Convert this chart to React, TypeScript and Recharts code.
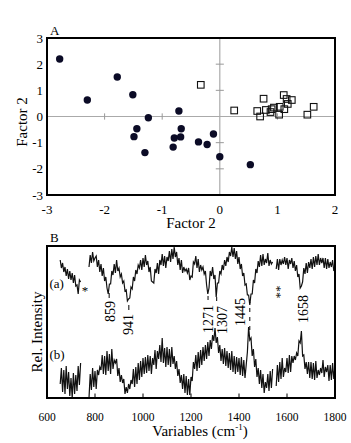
import React from 'react';
import {
  ScatterChart, Scatter, ComposedChart, Line, XAxis, YAxis, Label,
  ReferenceLine, ReferenceDot,
} from 'recharts';

const FONT = '"Liberation Serif", "Times New Roman", serif';

// ---- Panel A: factor scores ----
const factorTicksX = [-3, -2, -1, 0, 1, 2];
const factorTicksY = [-3, -2, -1, 0, 1, 2, 3];

const discX = [-2.78, -2.30, -1.78, -1.51, -1.24, -1.44, -1.49, -1.30, -0.71, -0.67, -0.68, -0.79, -0.81, -0.37, -0.22, -0.11, 0.0, 0.53];
const discY = [2.2, 0.63, 1.51, 0.83, -0.05, -0.47, -0.77, -1.38, 0.21, -0.47, -0.78, -0.82, -1.17, -0.97, -1.07, -0.67, -1.54, -1.84];

const squareX = [-0.33, 0.25, 0.65, 0.70, 0.76, 0.80, 0.88, 0.90, 0.94, 1.03, 1.04, 1.11, 1.12, 1.16, 1.18, 1.25, 1.52, 1.63];
const squareY = [1.21, 0.23, 0.21, 0.0, 0.68, 0.25, 0.17, 0.28, 0.34, 0.07, 0.37, 0.82, 0.28, 0.67, 0.48, 0.63, 0.07, 0.37];

// small marks sitting on the zero lines
const zeroTicksX = [-2, -1, 1];
const zeroTicksY = [-2, -1, 1, 2];

// ---- Panel B: spectra, sampled every 5 cm-1 from 655 ----
const WN_START = 655;
const WN_STEP = 5;
const wnTicks = [600, 800, 1000, 1200, 1400, 1600, 1800];
const innerTicks = [800, 1000, 1200, 1400, 1600];

const specA = [
  138, 130, 135, 126, 131, 122, 129, 119, 127, 118,
  125, 115, 123, 112, 113, 104, 118, 116, null, null,
  null, null, null, null, 131, 143, 135, 146, 137, 140,
  142, 131, 138, 126, 134, 122, 130, 117, 121, 110,
  104, 114, 114, 127, 123, 134, 125, 138, 127, 130,
  121, 124, 115, 117, 107, 108, 97, 99, 100, 111,
  109, 121, 117, 128, 124, 133, 130, 138, 128, 140,
  131, 143, 133, 137, 126, 131, 117, 116, 115, 129,
  125, 135, 124, 138, 133, 144, 132, 142, 130, 141,
  137, 147, 136, 149, 139, 151, 141, 146, 133, 140,
  128, 138, 125, 131, 127, 129, 125, 130, 118, 122,
  121, 136, 134, 142, 130, 139, 126, 133, 128, 131,
  124, 127, 113, 104, 110, 127, 122, 131, 119, 123,
  101, 115, 115, 127, 124, 133, 128, 138, 132, 141,
  136, 146, 142, 151, 141, 150, 139, 147, 134, 141,
  129, 134, 122, 125, 113, 114, 103, 103, 93, 104,
  104, 118, 115, 129, 125, 137, 131, 143, 132, 144,
  133, 139, 135, 145, 132, 138, 134, 136, null, null,
  129, 139, 128, 139, 133, 138, 134, 141, 133, 140,
  129, 138, 134, 140, 130, 137, 127, 133, 121, 124,
  110, 112, 116, 130, 124, 135, 125, 136, 130, 139,
  129, 141, 131, 142, 133, 144, 133, 140, 135, 140,
  130, 140, 129, 139, 130, 136, 131, 138, 127, 132,
];

const specB = [
  14, 30, 6, 28, 4, 32, 9, 26, 2, 20,
  0, 25, 4, 23, 7, 32, 13, 35, null, null,
  null, null, null, null, 0, 24, 8, 30, 11, 27,
  9, 28, 23, 31, 28, 43, 24, 42, 23, 47,
  27, 44, 24, 49, 29, 38, 35, 39, 22, 30,
  16, 23, 15, 19, 4, 11, 5, 14, 9, 18,
  14, 29, 11, 31, 14, 35, 18, 37, 21, 40,
  24, 41, 25, 43, 27, 42, 24, 40, 33, 48,
  29, 47, 39, 53, 36, 60, 35, 50, 31, 51,
  33, 49, 31, 51, 34, 42, 29, 37, 22, 29,
  15, 23, 9, 24, 5, 22, 3, 19, 3, 21,
  17, 36, 29, 43, 27, 46, 30, 48, 33, 51,
  37, 53, 39, 56, 42, 58, 49, 63, 57, 70,
  55, 61, 45, 53, 37, 49, 34, 50, 32, 47,
  30, 45, 28, 47, 26, 42, 24, 41, 26, 40,
  23, 41, 22, 38, 20, 33, 46, 71, 58, 60,
  42, 49, 31, 39, 21, 30, 14, 28, 10, 24,
  5, 16, 10, 24, 7, 27, 10, 29, null, null,
  12, 33, 16, 36, 19, 40, 21, 30, 26, 40,
  25, 43, 26, 42, 35, 42, 38, 45, 42, 57,
  55, 67, 42, 43, 29, 36, 24, 36, 20, 36,
  19, 35, 18, 37, 20, 28, 23, 30, 25, 38,
  21, 31, 26, 33, 17, 33, 18, 35, 19, 32,
];

const peaks = [859, 941, 1271, 1307, 1445, 1658];

const discs = discX.map((x, i) => ({ x, y: discY[i] }));
const squares = squareX.map((x, i) => ({ x, y: squareY[i] }));
const spectra = specA.map((a, i) => ({ wn: WN_START + i * WN_STEP, a, b: specB[i] }));

// label placement for the peak numbers (top end in plot units, sideways shift in px)
const peakLayout: Record<number, { top: number; dx: number; dash?: [number, number] }> = {
  859: { top: 97, dx: 1, dash: [100, 105] },
  941: { top: 84, dx: 0, dash: [88, 93] },
  1271: { top: 93, dx: 0, dash: [98, 102] },
  1307: { top: 92, dx: 6, dash: [97, 101] },
  1445: { top: 100, dx: -9 },
  1658: { top: 103, dx: 3 },
};

// layout shared by the charts and their frames
const W = 351;
const Y_AXIS_W = 47;
const RIGHT = 16;
const A_TOP = 38;
const A_H = 232;
const A_XAXIS_H = 37;
const B_OFFSET = 225;
const B_TOP = 21;
const B_H = 218;
const B_XAXIS_H = 45;

const tickStyle = { fontSize: 13, fill: '#000', fontFamily: FONT };

const Disc = (p: any) => <circle cx={p.cx} cy={p.cy} r={3.7} fill="#0b0b26" />;
const OpenSquare = (p: any) => (
  <rect x={p.cx - 3.3} y={p.cy - 3.3} width={6.6} height={6.6} fill="none" stroke="#111" strokeWidth={1.1} />
);

const plainText = (s: string, dx: number, dy: number, size = 13, anchor = 'start') => (p: any) => (
  <text x={p.cx + dx} y={p.cy + dy} fontSize={size} fontFamily={FONT} fill="#000" textAnchor={anchor}>{s}</text>
);

const upText = (s: string, dx: number, size = 14, anchor = 'end') => (p: any) => {
  const x = p.cx + dx;
  return (
    <text x={x} y={p.cy} transform={`rotate(-90 ${x} ${p.cy})`} fontSize={size} fontFamily={FONT}
      fill="#000" textAnchor={anchor} dominantBaseline="central">{s}</text>
  );
};

const VTitle = ({ x, y, text }: { x: number; y: number; text: string }) => (
  <text x={x} y={y} transform={`rotate(-90 ${x} ${y})`} textAnchor="middle" dominantBaseline="central"
    fontSize={15} fontFamily={FONT} fill="#000">{text}</text>
);

// black box around a plot area, drawn as four filled bars
const Frame = ({ top, height }: { top: number; height: number }) => {
  const left = Y_AXIS_W - 1;
  const width = W - RIGHT - Y_AXIS_W + 2;
  const bar = { position: 'absolute' as const, background: '#000' };
  return (
    <>
      <div style={{ ...bar, left, top: top - 1, width, height: 2 }} />
      <div style={{ ...bar, left, top: top + height - 1, width, height: 2 }} />
      <div style={{ ...bar, left, top: top - 1, width: 2, height: height + 2 }} />
      <div style={{ ...bar, left: left + width - 2, top: top - 1, width: 2, height: height + 2 }} />
    </>
  );
};

const ScorePlot = () => (
  <ScatterChart width={W} height={A_H} margin={{ top: A_TOP, right: RIGHT, bottom: 0, left: 0 }}>
    <XAxis type="number" dataKey="x" domain={[-3, 2]} ticks={factorTicksX} interval={0}
      axisLine={false} tickLine={false} tickSize={6} tickMargin={4} height={A_XAXIS_H} tick={tickStyle}>
      <Label content={() => (
        <text x={191} y={228} textAnchor="middle" fontSize={15} fontFamily={FONT} fill="#000">Factor 2</text>
      )} />
    </XAxis>
    <YAxis type="number" dataKey="y" domain={[-3, 3]} ticks={factorTicksY} interval={0} width={Y_AXIS_W}
      axisLine={false} tickLine={false} tickSize={4} tickMargin={0} tick={tickStyle}>
      <Label content={() => <VTitle x={22} y={122} text="Factor 2" />} />
    </YAxis>
    <ReferenceLine y={0} stroke="#aaa" strokeWidth={1.2} />
    <ReferenceLine x={0} stroke="#aaa" strokeWidth={1.2} />
    {zeroTicksX.map((t) => (
      <ReferenceLine key={`zx${t}`} segment={[{ x: t, y: -0.12 }, { x: t, y: 0.12 }]} stroke="#999" />
    ))}
    {zeroTicksY.map((t) => (
      <ReferenceLine key={`zy${t}`} segment={[{ x: -0.07, y: t }, { x: 0.07, y: t }]} stroke="#999" />
    ))}
    <Scatter data={discs} shape={Disc} isAnimationActive={false} />
    <Scatter data={squares} shape={OpenSquare} isAnimationActive={false} />
    <ReferenceDot x={-3} y={3} ifOverflow="visible" shape={plainText('A', 3, -3)} />
  </ScatterChart>
);

const SpectraPlot = () => (
  <ComposedChart width={W} height={B_H} data={spectra} margin={{ top: B_TOP, right: RIGHT, bottom: 0, left: 0 }}>
    <XAxis type="number" dataKey="wn" domain={[600, 1800]} ticks={wnTicks} interval={0}
      axisLine={false} tickLine={false} tickSize={6} tickMargin={9} height={B_XAXIS_H}
      tick={{ fontSize: 11.5, fill: '#000', fontFamily: FONT }}>
      <Label content={() => (
        <text x={200} y={211} textAnchor="middle" fontSize={15} fontFamily={FONT} fill="#000">
          <tspan>Variables (cm</tspan>
          <tspan fontSize={9} dy={-6}>-1</tspan>
          <tspan dy={6}>)</tspan>
        </text>
      )} />
    </XAxis>
    <YAxis type="number" domain={[0, 152]} width={Y_AXIS_W} tick={false} axisLine={false} tickLine={false}>
      <Label content={() => <VTitle x={37} y={107} text="Rel. Intensity" />} />
    </YAxis>
    {innerTicks.map((t) => (
      <ReferenceLine key={`it${t}`} segment={[{ x: t, y: 1 }, { x: t, y: 4.5 }]} stroke="#000" />
    ))}
    <Line dataKey="a" type="linear" stroke="#111" strokeWidth={1.2} dot={false} isAnimationActive={false} />
    <Line dataKey="b" type="linear" stroke="#111" strokeWidth={1.2} dot={false} isAnimationActive={false} />
    {peaks.map((wn) => {
      const lay = peakLayout[wn];
      return (
        <ReferenceDot key={`pk${wn}`} x={wn} y={lay.top} ifOverflow="visible" shape={upText(String(wn), lay.dx)} />
      );
    })}
    {peaks.filter((wn) => peakLayout[wn].dash).map((wn) => {
      const d = peakLayout[wn].dash as [number, number];
      return (
        <ReferenceLine key={`dash${wn}`} segment={[{ x: wn, y: d[0] }, { x: wn, y: d[1] }]} stroke="#000" strokeWidth={1} />
      );
    })}
    <ReferenceLine segment={[{ x: 1445, y: 68 }, { x: 1445, y: 96 }]} stroke="#000" strokeDasharray="4 5" />
    <ReferenceDot x={600} y={152} ifOverflow="visible" shape={plainText('B', 3, -4)} />
    <ReferenceDot x={600} y={110} ifOverflow="visible" shape={plainText('(a)', 2.5, 0)} />
    <ReferenceDot x={600} y={39.5} ifOverflow="visible" shape={plainText('(b)', 2.5, 0)} />
    <ReferenceDot x={758} y={103} ifOverflow="visible" shape={plainText('*', 0, 0, 13, 'middle')} />
    <ReferenceDot x={1557} y={106} ifOverflow="visible" shape={upText('**', 3, 13, 'middle')} />
  </ComposedChart>
);

export default function App() {
  return (
    <div style={{ position: 'absolute', left: 0, top: 0, width: W, height: 443, background: '#fff', fontFamily: FONT }}>
      <div style={{ position: 'absolute', left: 0, top: 0 }}>
        <ScorePlot />
      </div>
      <div style={{ position: 'absolute', left: 0, top: B_OFFSET }}>
        <SpectraPlot />
      </div>
      <Frame top={A_TOP} height={A_H - A_TOP - A_XAXIS_H} />
      <Frame top={B_OFFSET + B_TOP} height={B_H - B_TOP - B_XAXIS_H} />
    </div>
  );
}
